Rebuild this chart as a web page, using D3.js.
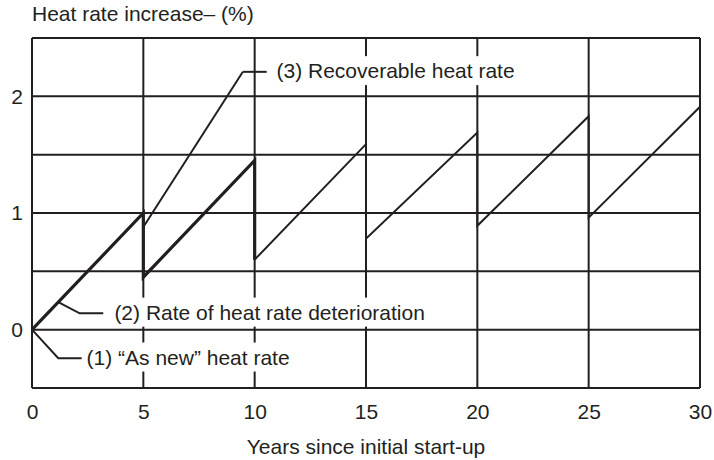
<!DOCTYPE html>
<html>
<head>
<meta charset="utf-8">
<script src="https://cdn.jsdelivr.net/npm/d3@7"></script>
<style>
  html, body { margin: 0; padding: 0; background: #fff; }
  svg { display: block; }
  text { font-family: "Liberation Sans", Arial, Helvetica, sans-serif; fill: #231f20; }
</style>
</head>
<body>
<script>
// Axis ticks
const xTicks = [0, 5, 10, 15, 20, 25, 30];
const yTicks = [0, 1, 2];
const yGrid = [-0.5, 0, 0.5, 1, 1.5, 2, 2.5];

// Heat rate increase (%) sawtooth: deterioration between overhauls, partial recovery at each
const sawYears  = [0, 5, 5, 10, 10, 15, 15, 20, 20, 25, 25, 30];
const sawValues = [0, 1.0, 0.45, 1.45, 0.6, 1.59, 0.78, 1.69, 0.89, 1.83, 0.96, 1.91];

// Recoverable heat rate line
const recYears  = [5, 9.47];
const recValues = [0.88, 2.21];

// Callouts: leader points in [year, %] and the year where the text begins
const labels = [
  { text: "(1) \u201CAs new\u201D heat rate", textYear: 2.45,
    pts: [[0, 0], [1.18, -0.245], [2.23, -0.245]] },
  { text: "(2) Rate of heat rate deterioration", textYear: 3.7,
    pts: [[1.18, 0.236], [2.14, 0.14], [3.2, 0.14]] },
  { text: "(3) Recoverable heat rate", textYear: 10.98,
    pts: [[9.47, 2.21], [10.54, 2.21]] }
];

const W = 714, H = 460;
const margin = { left: 32, right: 14, top: 38, bottom: 72 };

const svg = d3.select("body").append("svg").attr("width", W).attr("height", H);

const x = d3.scaleLinear().domain([0, 30]).range([margin.left, W - margin.right]);
const y = d3.scaleLinear().domain([-0.5, 2.5]).range([H - margin.bottom, margin.top]);

const ink = "#231f20";
const FS = 21;

// Grid
const grid = svg.append("g").attr("stroke", ink).attr("stroke-width", 2);
grid.selectAll("line.v").data(xTicks).join("line").attr("class", "v")
  .attr("x1", d => x(d)).attr("x2", d => x(d))
  .attr("y1", y(-0.5)).attr("y2", y(2.5));
grid.selectAll("line.h").data(yGrid).join("line").attr("class", "h")
  .attr("x1", x(0)).attr("x2", x(30))
  .attr("y1", d => y(d)).attr("y2", d => y(d));

// Axes labels via d3 axes (domain and ticks hidden; grid lines serve as ticks)
const xAxis = svg.append("g").attr("transform", `translate(0,${y(-0.5)})`)
  .call(d3.axisBottom(x).tickValues(xTicks).tickSize(0).tickPadding(16).tickFormat(d3.format("d")));
xAxis.select(".domain").remove();
xAxis.selectAll("text").attr("font-size", FS).attr("font-family", null).attr("fill", ink);

const yAxis = svg.append("g").attr("transform", `translate(${x(0)},0)`)
  .call(d3.axisLeft(y).tickValues(yTicks).tickSize(0).tickPadding(9).tickFormat(d3.format("d")));
yAxis.select(".domain").remove();
yAxis.selectAll("text").attr("font-size", FS).attr("font-family", null).attr("fill", ink);

// Titles
svg.append("text").attr("x", x(0)).attr("y", 21).attr("font-size", FS)
  .text("Heat rate increase\u2013 (%)");
svg.append("text").attr("x", (x(0) + x(30)) / 2).attr("y", 454).attr("font-size", FS)
  .attr("text-anchor", "middle").text("Years since initial start-up");

// Callout text with white backing that breaks the grid lines
const lbl = svg.append("g");
labels.forEach(l => {
  const end = l.pts[l.pts.length - 1];
  const t = lbl.append("text")
    .attr("x", x(l.textYear)).attr("y", y(end[1]))
    .attr("dy", "0.3em").attr("font-size", FS).text(l.text);
  const b = t.node().getBBox();
  lbl.insert("rect", "text")
    .attr("x", b.x - 3).attr("y", b.y - 3)
    .attr("width", b.width + 6).attr("height", b.height + 6)
    .attr("fill", "#fff");
});

// Series
const line = d3.line().x(d => x(d[0])).y(d => y(d[1]));
const saw = sawYears.map((t, i) => [t, sawValues[i]]);

svg.append("path").datum(saw.slice(0, 5)).attr("d", line)
  .attr("fill", "none").attr("stroke", ink).attr("stroke-width", 3.2).attr("stroke-linejoin", "miter");
svg.append("path").datum(saw.slice(4)).attr("d", line)
  .attr("fill", "none").attr("stroke", ink).attr("stroke-width", 2);

svg.append("path").datum(recYears.map((t, i) => [t, recValues[i]])).attr("d", line)
  .attr("fill", "none").attr("stroke", ink).attr("stroke-width", 2);

// Leader lines
labels.forEach(l => {
  svg.append("path").datum(l.pts).attr("d", line)
    .attr("fill", "none").attr("stroke", ink).attr("stroke-width", 2);
});
</script>
</body>
</html>
